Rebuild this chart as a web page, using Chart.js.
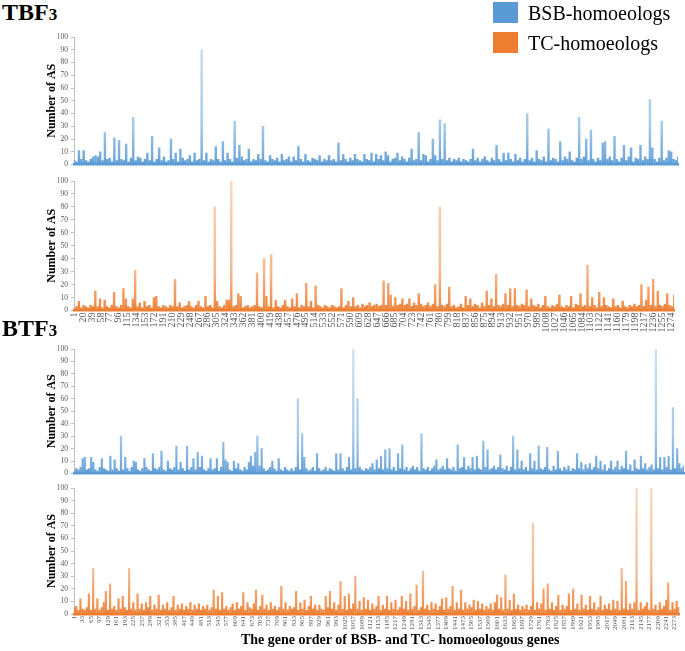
<!DOCTYPE html>
<html>
<head>
<meta charset="utf-8">
<title>Number of AS per homoeologous gene</title>
<script src="https://cdn.jsdelivr.net/npm/chart.js@4.4.1/dist/chart.umd.min.js"></script>
<style>
    body { margin: 0; background: #fff; }
    #wrap {
        position: relative; width: 685px; height: 651px; overflow: hidden;
        font-family: 'Liberation Serif', 'Times New Roman', serif; color: #000;
    }
    #wrap canvas { position: absolute; left: 0; }
    .heading {
        position: absolute; left: 2px; z-index: 2;
        font-weight: bold; font-size: 24px; line-height: 24px; white-space: nowrap;
    }
    .heading span { font-size: 17px; }
    .swatch { position: absolute; left: 493px; width: 25px; height: 21px; }
    .legend-text { position: absolute; left: 528px; font-size: 20px; line-height: 20px; white-space: nowrap; }
    #x-title {
        position: absolute; left: 241px; top: 633px; white-space: nowrap;
        font-weight: bold; font-size: 14px; line-height: 14px;
    }
</style>
</head>
<body>
<div id="wrap">
    <canvas id="tb-bsb" width="685" height="144" style="top:28px"></canvas>
    <canvas id="tb-tc" width="685" height="172" style="top:172px"></canvas>
    <canvas id="bt-bsb" width="685" height="141" style="top:340px"></canvas>
    <canvas id="bt-tc" width="685" height="172" style="top:479px"></canvas>

    <div class="heading" style="top:0px">TBF<span>3</span></div>
    <div class="heading" style="top:316px">BTF<span>3</span></div>

    <div class="swatch" style="top:2px; background:#5B9BD5"></div>
    <div class="legend-text" style="top:3px">BSB-homoeologs</div>
    <div class="swatch" style="top:32px; background:#ED7D31"></div>
    <div class="legend-text" style="top:33px">TC-homoeologs</div>

    <div id="x-title">The gene order of BSB- and TC- homoeologous genes</div>
</div>
<script>
        const BLUE = [91, 155, 213];
        const ORANGE = [237, 125, 49];

        // gene counts and sampling step (values read every STEP genes)
        const TB_GENES = 1280;
        const BT_GENES = 2290;
        const TB_STEP = 5;
        const BT_STEP = 8;

        const tbTicks = [1, 20, 39, 58, 77, 96, 115, 134, 153, 172, 191, 210, 229, 248, 267, 286, 305, 324, 343, 362,
            381, 400, 419, 438, 457, 476, 495, 514, 533, 552, 571, 590, 609, 628, 647, 666, 685, 704, 723, 742,
            761, 780, 799, 818, 837, 856, 875, 894, 913, 932, 951, 970, 989, 1008, 1027, 1046, 1065, 1084, 1103,
            1122, 1141, 1160, 1179, 1198, 1217, 1236, 1255, 1274];

        const btTicks = [1, 33, 65, 97, 129, 161, 193, 225, 257, 289, 321, 353, 385, 417, 449, 481, 513, 545, 577,
            609, 641, 673, 705, 737, 769, 801, 833, 865, 897, 929, 961, 993, 1025, 1057, 1089, 1121, 1153, 1185,
            1217, 1249, 1281, 1313, 1345, 1377, 1409, 1441, 1473, 1505, 1537, 1569, 1601, 1633, 1665, 1697, 1729,
            1761, 1793, 1825, 1857, 1889, 1921, 1953, 1985, 2017, 2049, 2081, 2113, 2145, 2177, 2209, 2241, 2273];

        // TBF3, BSB-homoeologs
        const tbBsb = [
            3, 2, 11, 4, 11, 3, 2, 4, 6, 7,
            6, 10, 3, 25, 4, 5, 2, 21, 3, 19,
            4, 3, 16, 2, 5, 37, 3, 6, 5, 2,
            4, 9, 3, 22, 2, 4, 13, 3, 6, 2,
            3, 20, 4, 9, 2, 12, 5, 3, 4, 7,
            2, 9, 3, 4, 90, 3, 9, 2, 4, 3,
            14, 4, 2, 18, 3, 9, 4, 2, 34, 5,
            15, 6, 3, 4, 12, 2, 4, 3, 8, 4,
            30, 3, 2, 7, 4, 3, 5, 2, 8, 3,
            4, 6, 2, 6, 3, 14, 4, 2, 8, 3,
            2, 5, 4, 3, 7, 2, 4, 3, 7, 3,
            4, 2, 17, 3, 8, 4, 2, 5, 3, 8,
            4, 3, 2, 8, 4, 3, 9, 2, 8, 4,
            7, 3, 10, 7, 2, 4, 5, 9, 3, 6,
            4, 2, 5, 12, 3, 4, 25, 3, 8, 7,
            2, 4, 20, 7, 3, 35, 4, 32, 3, 5,
            2, 4, 3, 5, 2, 4, 3, 2, 4, 12,
            3, 5, 2, 4, 6, 3, 2, 5, 3, 15,
            4, 2, 9, 3, 9, 4, 2, 8, 3, 5,
            2, 4, 40, 3, 5, 2, 11, 4, 3, 6,
            2, 28, 3, 5, 4, 2, 18, 3, 6, 4,
            10, 3, 2, 5, 37, 4, 6, 20, 3, 27,
            4, 2, 5, 3, 17, 18, 4, 6, 3, 22,
            4, 2, 5, 15, 3, 6, 13, 2, 5, 4,
            15, 3, 6, 4, 51, 13, 4, 2, 5, 34,
            3, 5, 11, 10, 4, 3, 6
        ];

        // TBF3, TC-homoeologs
        const tbTc = [
            2, 3, 7, 2, 4, 3, 2, 4, 3, 15,
            3, 9, 2, 8, 3, 2, 4, 14, 3, 2,
            4, 17, 9, 3, 2, 9, 31, 3, 6, 2,
            7, 3, 4, 2, 10, 11, 3, 2, 4, 3,
            2, 4, 3, 24, 3, 6, 2, 3, 4, 7,
            3, 2, 4, 7, 3, 2, 11, 3, 4, 2,
            80, 7, 3, 2, 4, 8, 8, 100, 3, 4,
            13, 11, 2, 3, 4, 2, 3, 4, 29, 3,
            2, 40, 11, 3, 43, 2, 8, 3, 2, 4,
            8, 3, 2, 9, 3, 13, 2, 4, 3, 21,
            3, 7, 2, 19, 4, 3, 2, 4, 3, 2,
            4, 3, 2, 3, 17, 2, 4, 7, 3, 10,
            3, 4, 2, 5, 3, 4, 6, 3, 4, 5,
            3, 4, 23, 4, 21, 12, 3, 10, 4, 5,
            9, 4, 5, 9, 3, 6, 4, 13, 5, 3,
            4, 6, 3, 5, 20, 3, 80, 4, 3, 5,
            18, 3, 4, 2, 3, 5, 2, 11, 4, 9,
            3, 5, 4, 2, 6, 3, 15, 4, 9, 3,
            28, 4, 3, 5, 13, 4, 17, 3, 17, 4,
            3, 5, 4, 16, 3, 9, 4, 3, 5, 2,
            4, 11, 3, 2, 4, 3, 5, 12, 3, 2,
            4, 3, 11, 2, 5, 4, 13, 3, 4, 35,
            3, 10, 4, 2, 14, 3, 10, 4, 3, 2,
            9, 3, 4, 2, 7, 3, 2, 4, 3, 5,
            3, 4, 20, 3, 8, 18, 4, 24, 3, 15,
            4, 3, 5, 13, 4, 3, 12
        ];

        // BTF3, BSB-homoeologs
        const btBsb = [
            2, 4, 3, 5, 12, 13, 3, 4, 13, 9,
            3, 2, 5, 12, 4, 3, 2, 14, 3, 11,
            4, 2, 30, 3, 13, 4, 2, 5, 10, 9,
            3, 2, 4, 12, 5, 3, 2, 16, 4, 3,
            5, 18, 3, 2, 10, 4, 3, 5, 22, 3,
            9, 4, 2, 22, 3, 5, 12, 3, 17, 5,
            14, 3, 2, 4, 12, 3, 4, 12, 2, 5,
            25, 11, 9, 3, 2, 10, 4, 8, 3, 2,
            5, 3, 9, 14, 6, 17, 30, 6, 20, 4,
            2, 3, 5, 10, 4, 2, 12, 3, 2, 5,
            3, 2, 4, 2, 5, 60, 3, 32, 13, 4,
            2, 3, 5, 2, 16, 4, 2, 3, 5, 2,
            4, 3, 2, 16, 3, 16, 4, 2, 5, 13,
            3, 100, 4, 60, 5, 3, 2, 4, 3, 5,
            8, 3, 11, 4, 14, 3, 19, 4, 20, 3,
            5, 2, 16, 4, 23, 3, 5, 2, 4, 6,
            3, 5, 2, 32, 4, 3, 5, 2, 4, 6,
            11, 3, 4, 6, 3, 12, 4, 3, 5, 2,
            23, 4, 5, 13, 3, 6, 4, 13, 3, 14,
            4, 3, 26, 5, 19, 3, 4, 6, 3, 5,
            15, 4, 3, 6, 2, 5, 30, 3, 19, 4,
            10, 3, 5, 2, 16, 4, 10, 3, 22, 4,
            3, 5, 21, 3, 2, 6, 3, 18, 4, 2,
            5, 3, 6, 2, 4, 3, 16, 4, 9, 3,
            7, 4, 8, 3, 5, 14, 4, 10, 3, 7,
            2, 4, 10, 3, 5, 10, 3, 6, 4, 18,
            3, 7, 2, 11, 4, 3, 14, 4, 8, 3,
            5, 7, 3, 100, 4, 13, 3, 13, 5, 14,
            3, 53, 4, 20, 8, 4, 6
        ];

        // BTF3, TC-homoeologs
        const btTc = [
            5, 6, 3, 12, 4, 3, 5, 16, 3, 36,
            4, 12, 3, 5, 9, 18, 3, 24, 4, 6,
            3, 12, 4, 14, 5, 3, 36, 4, 9, 3,
            16, 4, 8, 3, 9, 5, 14, 3, 7, 4,
            15, 3, 7, 4, 9, 3, 5, 14, 3, 7,
            4, 8, 3, 6, 4, 9, 3, 7, 4, 8,
            3, 6, 4, 7, 3, 5, 19, 4, 14, 3,
            17, 4, 6, 3, 5, 8, 3, 9, 4, 6,
            17, 3, 9, 5, 4, 8, 19, 3, 6, 15,
            4, 7, 3, 9, 4, 6, 3, 5, 22, 4,
            9, 3, 6, 4, 5, 18, 3, 9, 4, 11,
            3, 6, 14, 4, 7, 3, 7, 4, 3, 14,
            5, 18, 4, 9, 3, 7, 26, 4, 14, 3,
            16, 4, 8, 30, 4, 10, 3, 13, 4, 11,
            3, 8, 4, 6, 14, 3, 7, 4, 14, 3,
            9, 4, 11, 3, 5, 14, 4, 10, 3, 16,
            4, 6, 23, 3, 5, 34, 4, 7, 3, 9,
            4, 8, 3, 6, 12, 3, 13, 4, 6, 22,
            3, 9, 4, 19, 3, 9, 4, 7, 5, 11,
            3, 10, 4, 8, 3, 6, 4, 8, 3, 9,
            15, 4, 13, 3, 31, 4, 11, 3, 16, 4,
            7, 3, 6, 4, 7, 3, 6, 72, 3, 9,
            4, 8, 20, 3, 24, 4, 9, 3, 6, 15,
            3, 7, 4, 6, 16, 3, 20, 4, 8, 3,
            15, 4, 7, 3, 14, 4, 9, 3, 5, 14,
            3, 7, 4, 8, 3, 11, 4, 10, 3, 36,
            4, 26, 3, 8, 4, 9, 100, 3, 9, 4,
            6, 9, 3, 100, 4, 7, 3, 9, 4, 6,
            11, 25, 3, 9, 4, 10, 5
        ];

        Chart.defaults.font.family = "'Liberation Serif', 'Times New Roman', serif";

        function rgba(c, a) {
            return `rgba(${c[0]}, ${c[1]}, ${c[2]}, ${a})`;
        }

        function toPoints(values, step) {
            return values.map((v, i) => ({ x: 1 + i * step, y: v }));
        }

        // thin spikes fade towards the top like the anti-aliased original
        function spikeFill(color) {
            return (context) => {
                const { ctx, chartArea } = context.chart;
                if (!chartArea) return rgba(color, 1);
                const g = ctx.createLinearGradient(0, chartArea.bottom, 0, chartArea.top);
                g.addColorStop(0, rgba(color, 1));
                g.addColorStop(0.06, rgba(color, 0.85));
                g.addColorStop(0.3, rgba(color, 0.55));
                g.addColorStop(1, rgba(color, 0.3));
                return g;
            };
        }

        function makePanel(id, cfg) {
            const ctx = document.getElementById(id).getContext('2d');
            return new Chart(ctx, {
                type: 'bar',
                data: {
                    datasets: [{
                        label: cfg.label,
                        data: toPoints(cfg.values, cfg.step),
                        backgroundColor: spikeFill(cfg.color),
                        borderWidth: 0,
                        barThickness: cfg.barWidth
                    }]
                },
                options: {
                    responsive: false,
                    animation: false,
                    devicePixelRatio: 1,
                    layout: { padding: { top: 9, right: cfg.padRight, bottom: 0, left: 0 } },
                    plugins: {
                        legend: { display: false },
                        tooltip: { enabled: false }
                    },
                    scales: {
                        x: {
                            type: 'linear',
                            offset: false,
                            min: 0.5,
                            max: cfg.genes + 0.5,
                            afterBuildTicks: s => {
                                if (cfg.ticks) s.ticks = cfg.ticks.map(v => ({ value: v }));
                            },
                            afterFit: s => { s.height = cfg.xHeight; },
                            grid: { display: false, drawTicks: false, offset: false },
                            border: { display: true, color: rgba(cfg.color, 1), width: 2.5, z: 1 },
                            ticks: {
                                display: !!cfg.ticks,
                                autoSkip: false,
                                minRotation: 90,
                                maxRotation: 90,
                                padding: 2,
                                color: '#595959',
                                font: { size: cfg.tickSize || 8 },
                                callback: v => String(v)
                            }
                        },
                        y: {
                            min: 0,
                            max: 100,
                            afterFit: s => { s.width = 74; },
                            grid: { display: true, drawOnChartArea: false, drawTicks: true, tickLength: 3, color: '#bfbfbf' },
                            border: { display: true, color: '#bfbfbf' },
                            ticks: { stepSize: 10, padding: 3, color: '#595959', font: { size: 7.5 } },
                            title: {
                                display: true,
                                text: 'Number of AS',
                                color: '#000',
                                font: { size: 12, weight: 'bold' },
                                padding: { top: 45, bottom: 0 }
                            }
                        }
                    }
                }
            });
        }

        makePanel('tb-bsb', { label: 'BSB-homoeologs', values: tbBsb, step: TB_STEP, genes: TB_GENES, color: BLUE, barWidth: 1.8, padRight: 7, xHeight: 6 });
        makePanel('tb-tc', { label: 'TC-homoeologs', values: tbTc, step: TB_STEP, genes: TB_GENES, color: ORANGE, barWidth: 1.8, padRight: 7, xHeight: 33.5, ticks: tbTicks, tickSize: 10 });
        makePanel('bt-bsb', { label: 'BSB-homoeologs', values: btBsb, step: BT_STEP, genes: BT_GENES, color: BLUE, barWidth: 1.6, padRight: 1, xHeight: 6 });
        makePanel('bt-tc', { label: 'TC-homoeologs', values: btTc, step: BT_STEP, genes: BT_GENES, color: ORANGE, barWidth: 1.6, padRight: 1, xHeight: 37, ticks: btTicks, tickSize: 7 });
</script>
</body>
</html>
